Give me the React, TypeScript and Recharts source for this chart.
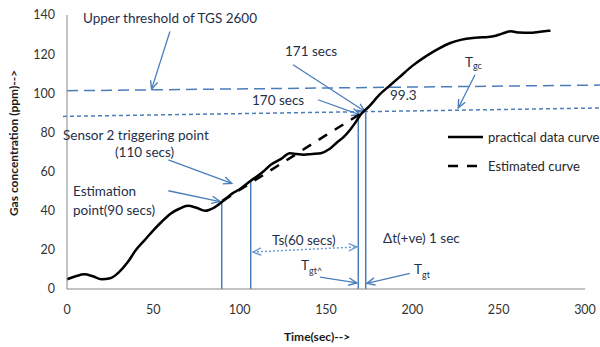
import React from "react";
import { LineChart, Line, XAxis, YAxis, ReferenceLine } from "recharts";

// measured gas concentration (ppm) against time (sec)
const practicalTime = [0, 5, 10, 15, 20, 25, 30, 35, 40, 45, 50, 55, 60, 65, 70, 75, 80, 85, 90, 96, 100, 106, 113, 118, 124, 129, 133, 137, 142, 147, 152, 156, 160, 164, 167, 170, 175, 181, 187, 193, 200, 208, 215, 222, 228, 235, 241, 247, 252, 257, 262, 268, 274, 280];
const practicalConc = [5, 6.5, 7.5, 6.5, 5, 5.5, 8.5, 13.5, 20, 25, 30, 34.5, 38.5, 41, 42.5, 41.5, 40, 41.5, 44.7, 49, 51, 55, 59.5, 63.5, 66.5, 69.4, 69, 68.6, 69, 69.4, 71.5, 74.6, 77.5, 81.4, 85, 89, 93.3, 99.3, 104, 108.6, 114, 119, 122.7, 125.7, 127.3, 128.3, 128.6, 129.1, 130.5, 131.7, 131, 130.9, 131.5, 132];

// estimated curve from the estimation point
const estimatedTime = [90, 110, 130, 150, 170];
const estimatedConc = [45, 56.2, 67.4, 78.6, 89.5];

const xTicks = [0, 50, 100, 150, 200, 250, 300];
const yTicks = [0, 20, 40, 60, 80, 100, 120, 140];

// threshold lines [time, ppm]
const upperThreshold = [[0, 101.3], [308.7, 104.2]];
const triggerThreshold = [[-2.3, 88.2], [308.7, 92.5]];

// vertical guides: time and the ppm they reach
const guideTimes = [89.6, 106.4, 168.7, 173];
const guideTops = [44.7, 55, 90, 90];

// annotation arrows [fromTime, fromPpm, toTime, toPpm]
const arrows = [
  [59.6, 131.6, 49, 102.1],
  [130.9, 114.6, 172.6, 90.7],
  [145.4, 96.7, 169.7, 89.0],
  [236.3, 109.5, 226.6, 92.5],
  [58.7, 66.0, 95.4, 54.0],
  [58.7, 50.2, 88.6, 44.7],
  [146.5, 6.1, 167.9, 3.1],
  [198.6, 8.0, 173.6, 2.9],
];
const tsArrow = [107.7, 18.9, 167.9, 21.5];

const practicalData = practicalTime.map((t, i) => ({ t, ppm: practicalConc[i] }));
const estimatedData = estimatedTime.map((t, i) => ({ t, ppm: estimatedConc[i] }));

const BLUE = "#4a7ebb";
const TEXT = "#1f2f4a";
const FONT = "Lato, 'Open Sans', sans-serif";

function head(xa: number, ya: number, xb: number, yb: number) {
  const a = Math.atan2(yb - ya, xb - xa);
  const L = 9;
  const s = 0.42;
  return `M${xb - L * Math.cos(a - s)},${yb - L * Math.sin(a - s)} L${xb},${yb} L${xb - L * Math.cos(a + s)},${yb - L * Math.sin(a + s)}`;
}

const arrowShape = (both: boolean) => (props: any) => {
  const { x1, y1, x2, y2, stroke, strokeWidth, strokeDasharray } = props;
  return (
    <g>
      <line x1={x1} y1={y1} x2={x2} y2={y2} stroke={stroke} strokeWidth={strokeWidth} strokeDasharray={strokeDasharray} />
      <path d={head(x1, y1, x2, y2)} fill="none" stroke={stroke} strokeWidth={1.4} />
      {both && <path d={head(x2, y2, x1, y1)} fill="none" stroke={stroke} strokeWidth={1.4} />}
    </g>
  );
};

function Annotations() {
  const t = { fontFamily: FONT, fontSize: 13.5, fill: TEXT };
  return (
    <svg width={600} height={347} style={{ position: "absolute", left: 0, top: 0, pointerEvents: "none" }}>
      <text x={83} y={23} {...t}>Upper threshold of TGS 2600</text>
      <text x={285} y={55.5} {...t}>171 secs</text>
      <text x={252} y={104.5} {...t}>170 secs</text>
      <text x={390} y={100} {...t}>99.3</text>
      <text x={465} y={67} {...t}>
        T<tspan fontSize={9} dy={2}>gc</tspan>
      </text>
      <text x={63} y={139.5} {...t}>Sensor 2 triggering point</text>
      <text x={115} y={157} {...t}>(110 secs)</text>
      <text x={73} y={196} {...t}>Estimation</text>
      <text x={73} y={214.5} {...t}>point(90 secs)</text>
      <text x={272} y={244.5} {...t}>Ts(60 secs)</text>
      <text x={383} y={242.5} {...t}>Δt(+ve) 1 sec</text>
      <text x={301} y={270} {...t}>
        T<tspan fontSize={9} dy={4}>gt^</tspan>
      </text>
      <text x={414} y={274} {...t}>
        T<tspan fontSize={9} dy={4}>gt</tspan>
      </text>

      <line x1={448} y1={137} x2={483} y2={137} stroke="#000" strokeWidth={2.5} />
      <text x={488} y={141.5} fontFamily={FONT} fontSize={13} fill="#262626">practical data curve</text>
      <line x1={448} y1={166} x2={478} y2={166} stroke="#000" strokeWidth={2.5} strokeDasharray="10 9" />
      <text x={488} y={170.5} fontFamily={FONT} fontSize={13} fill="#262626">Estimated curve</text>

      <text x={15} y={143} transform="rotate(-90 15 143)" textAnchor="middle" dominantBaseline="middle" fontFamily={FONT} fontSize={12} fontWeight="bold" fill="#1a1a1a">
        Gas concentration (ppm)--&gt;
      </text>
      <text x={317} y={341} textAnchor="middle" fontFamily={FONT} fontSize={12} fontWeight="bold" fill="#1a1a1a">
        Time(sec)--&gt;
      </text>
    </svg>
  );
}

export default function App() {
  return (
    <div style={{ position: "absolute", left: 0, top: 0, width: 600, height: 347, background: "#fff" }}>
      <LineChart width={600} height={347} margin={{ top: 15, right: 15, bottom: 0, left: 0 }} style={{ fontFamily: FONT }}>
        <XAxis
          type="number"
          dataKey="t"
          domain={[0, 300]}
          ticks={xTicks}
          height={58}
          tickLine={false}
          tickMargin={10}
          axisLine={{ stroke: "#868686" }}
          tick={{ fill: "#333", fontSize: 12.5 }}
        />
        <YAxis
          type="number"
          domain={[0, 140]}
          ticks={yTicks}
          width={67}
          tickLine={false}
          tickMargin={6}
          axisLine={{ stroke: "#868686" }}
          tick={{ fill: "#333", fontSize: 12.5 }}
        />

        <ReferenceLine
          segment={[{ x: upperThreshold[0][0], y: upperThreshold[0][1] }, { x: upperThreshold[1][0], y: upperThreshold[1][1] }]}
          ifOverflow="visible"
          stroke={BLUE}
          strokeWidth={1.5}
          strokeDasharray="11 6"
        />
        <ReferenceLine
          segment={[{ x: triggerThreshold[0][0], y: triggerThreshold[0][1] }, { x: triggerThreshold[1][0], y: triggerThreshold[1][1] }]}
          ifOverflow="visible"
          stroke={BLUE}
          strokeWidth={1.5}
          strokeDasharray="4 3"
        />
        {guideTimes.map((g, i) => (
          <ReferenceLine
            key={"g" + i}
            segment={[{ x: g, y: 0 }, { x: g, y: guideTops[i] }]}
            ifOverflow="visible"
            stroke={BLUE}
            strokeWidth={1.5}
          />
        ))}
        {arrows.map((a, i) => (
          <ReferenceLine
            key={"a" + i}
            segment={[{ x: a[0], y: a[1] }, { x: a[2], y: a[3] }]}
            ifOverflow="visible"
            stroke={BLUE}
            strokeWidth={1.3}
            shape={arrowShape(false)}
          />
        ))}
        <ReferenceLine
          segment={[{ x: tsArrow[0], y: tsArrow[1] }, { x: tsArrow[2], y: tsArrow[3] }]}
          ifOverflow="visible"
          stroke="#6f9bd1"
          strokeWidth={1.5}
          strokeDasharray="2 2"
          shape={arrowShape(true)}
        />

        <Line
          data={practicalData}
          dataKey="ppm"
          type="monotone"
          stroke="#000"
          strokeWidth={2.5}
          dot={false}
          isAnimationActive={false}
        />
        <Line
          data={estimatedData}
          dataKey="ppm"
          type="linear"
          stroke="#000"
          strokeWidth={2.5}
          strokeDasharray="10 9"
          dot={false}
          isAnimationActive={false}
        />
      </LineChart>
      <Annotations />
    </div>
  );
}
